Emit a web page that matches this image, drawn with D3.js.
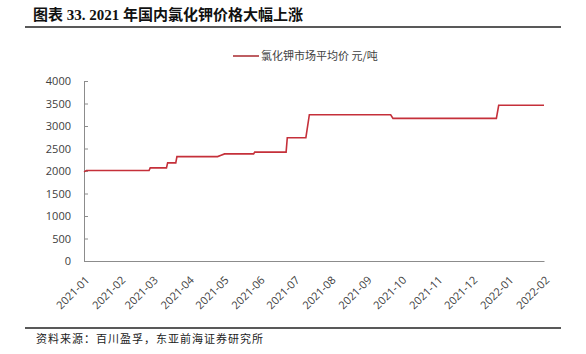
<!DOCTYPE html>
<html>
<head>
<meta charset="utf-8">
<script src="https://cdn.jsdelivr.net/npm/d3@7"></script>
<style>
  body { margin: 0; background: #fff; }
  #chart { width: 586px; height: 354px; }
  .axis text { font-family: "Open Sans", "Noto Sans", sans-serif; font-size: 11px; fill: #404040; }
</style>
</head>
<body>
<div id="chart"></div>
<script>
// change points of the daily price (yuan/ton)
let priceDates = ["2021-01-01", "2021-01-03", "2021-02-26", "2021-02-27", "2021-03-13", "2021-03-14",
                  "2021-03-21", "2021-03-22", "2021-04-26", "2021-04-29", "2021-05-02", "2021-05-27",
                  "2021-05-28", "2021-06-24", "2021-06-25", "2021-07-11", "2021-07-14", "2021-09-22",
                  "2021-09-24", "2021-12-22", "2021-12-24", "2022-02-01"];
let priceValues = [1980, 2010, 2010, 2070, 2070, 2180,
                   2180, 2320, 2320, 2350, 2380, 2380,
                   2420, 2420, 2740, 2740, 3250, 3250,
                   3170, 3170, 3460, 3460];
let yTicks = [0, 500, 1000, 1500, 2000, 2500, 3000, 3500, 4000];
let xTickMonths = ["2021-01", "2021-02", "2021-03", "2021-04", "2021-05", "2021-06", "2021-07",
                   "2021-08", "2021-09", "2021-10", "2021-11", "2021-12", "2022-01", "2022-02"];
let seriesName = "氯化钾市场平均价 元/吨";
let titleText = "图表 33. 2021 年国内氯化钾价格大幅上涨";
let sourceText = "资料来源：百川盈孚，东亚前海证券研究所";

let W = 586, H = 354;
let margin = {top: 81, right: 42, bottom: 93, left: 84};
let width = W - margin.left - margin.right;
let height = H - margin.top - margin.bottom;

let parseDay = d3.timeParse("%Y-%m-%d");
let parseMonth = d3.timeParse("%Y-%m");
let data = priceDates.map((d, i) => ({date: parseDay(d), value: priceValues[i]}));

let svg = d3.select("#chart").append("svg")
    .attr("width", W).attr("height", H);

/*  title + rule  */
svg.append("text")
    .attr("x", 33).attr("y", 20)
    .attr("font-family", "'Liberation Serif', 'Noto Sans CJK SC', serif")
    .attr("font-weight", "bold")
    .attr("font-size", 15)
    .attr("fill", "#111")
    .text(titleText);
svg.append("line")
    .attr("x1", 25).attr("x2", 561).attr("y1", 27).attr("y2", 27)
    .attr("stroke", "#222").attr("stroke-width", 1.5);

/*  footer  */
svg.append("line")
    .attr("x1", 25).attr("x2", 561).attr("y1", 328).attr("y2", 328)
    .attr("stroke", "#222").attr("stroke-width", 1.5);
svg.append("text")
    .attr("x", 36).attr("y", 343)
    .attr("font-family", "'Noto Sans CJK SC', sans-serif")
    .attr("font-size", 11)
    .attr("fill", "#222")
    .attr("letter-spacing", 1)
    .text(sourceText);

let g = svg.append("g")
    .attr("transform", "translate(" + margin.left + "," + margin.top + ")");

let xScale = d3.scaleTime()
    .domain([parseMonth(xTickMonths[0]), parseMonth(xTickMonths[xTickMonths.length - 1])])
    .range([0, width]);
let yScale = d3.scaleLinear()
    .domain([0, 4000])
    .range([height, 0]);

/*  axes  */
let yAxis = g.append("g")
    .attr("class", "y axis")
    .call(d3.axisRight(yScale).tickValues(yTicks).tickFormat(d3.format("d"))
        .tickSize(4).tickPadding(-17));
yAxis.selectAll("text").attr("text-anchor", "end");
yAxis.select(".domain").attr("stroke", "#8c8c8c");
yAxis.selectAll(".tick line").attr("stroke", "#8c8c8c");

let xAxis = g.append("g")
    .attr("class", "x axis")
    .attr("transform", "translate(0," + height + ")")
    .call(d3.axisBottom(xScale)
        .tickValues(xTickMonths.map(parseMonth))
        .tickFormat(d3.timeFormat("%Y-%m"))
        .tickSizeOuter(0).tickSizeInner(0));
xAxis.select(".domain").attr("stroke", "#8c8c8c");
xAxis.selectAll("text")
    .style("text-anchor", "end")
    .attr("dx", "-10px")
    .attr("dy", "15px")
    .attr("transform", "rotate(-45)");

/*  price line  */
let line = d3.line()
    .x(d => xScale(d.date))
    .y(d => yScale(d.value));
g.append("path")
    .datum(data)
    .attr("fill", "none")
    .attr("stroke", "#c5303a")
    .attr("stroke-width", 1.6)
    .attr("d", line);

/*  legend  */
let legend = svg.append("g").attr("transform", "translate(233,56)");
legend.append("line")
    .attr("x1", 0).attr("x2", 26).attr("y1", 0).attr("y2", 0)
    .attr("stroke", "#a8282e").attr("stroke-width", 1.5);
legend.append("text")
    .attr("x", 28).attr("y", 4)
    .attr("font-family", "'Noto Sans CJK SC', sans-serif")
    .attr("font-size", 11)
    .attr("fill", "#404040")
    .text(seriesName);
</script>
</body>
</html>
